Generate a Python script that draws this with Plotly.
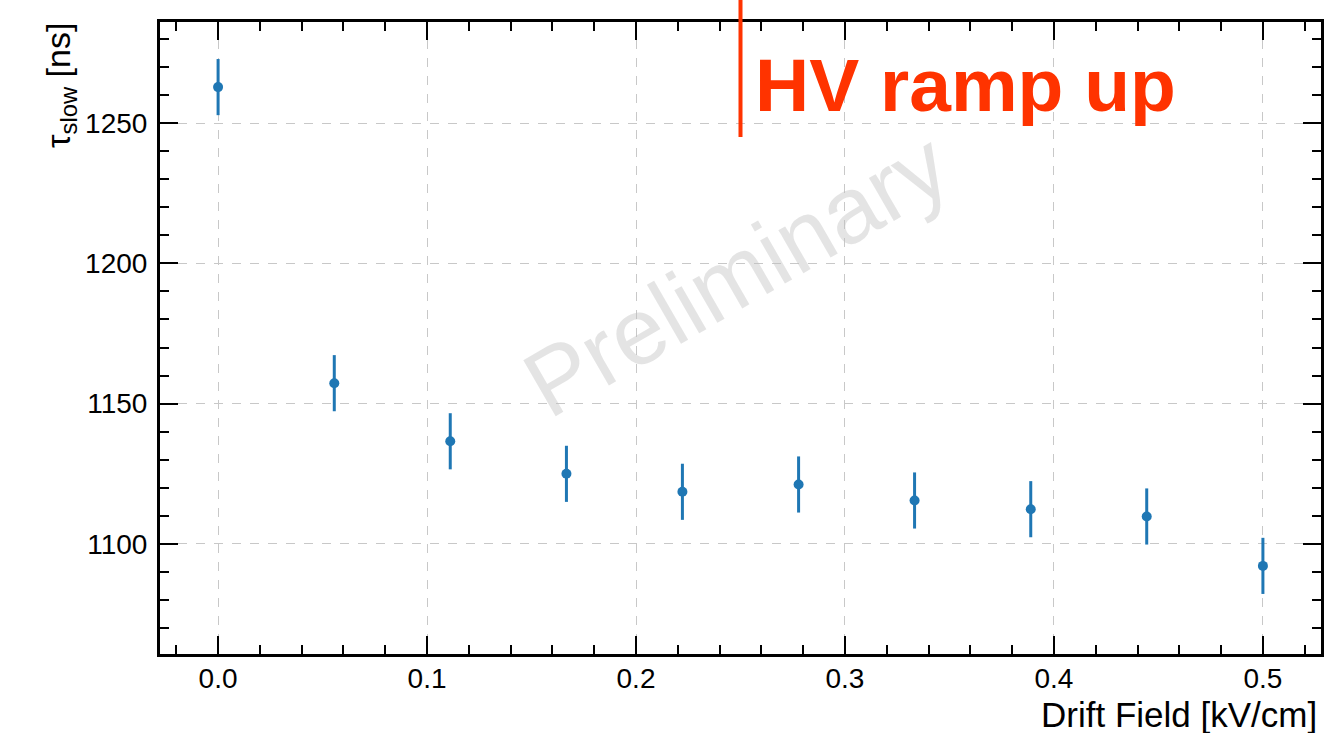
import plotly.graph_objects as go

# ---- data ----
drift_field = [0.0, 0.0556, 0.1111, 0.1667, 0.2222, 0.2778, 0.3333, 0.3889, 0.4444, 0.5]
tau_slow = [1262.8, 1157.3, 1136.6, 1125.0, 1118.6, 1121.2, 1115.5, 1112.4, 1109.8, 1092.2]
tau_err = [10, 10, 10, 10, 10, 10, 10, 10, 10, 10]
x_ticks = [0.0, 0.1, 0.2, 0.3, 0.4, 0.5]
y_ticks = [1100, 1150, 1200, 1250]
hv_ramp_x = 0.25

FONT = "Liberation Sans, Arial, Helvetica, sans-serif"
RED = "#ff3300"
BLUE = "#1f77b4"

fig = go.Figure()
fig.add_trace(go.Scatter(
    x=drift_field, y=tau_slow, mode="markers",
    marker=dict(color=BLUE, size=10),
    error_y=dict(type="data", array=tau_err, visible=True, color=BLUE, thickness=3, width=0),
    showlegend=False,
))

axis_common = dict(
    showline=True, linecolor="black", linewidth=3, mirror="allticks",
    ticks="inside", ticklen=18, tickwidth=1.5, tickcolor="black",
    showgrid=True, gridcolor="#c8c8c8", gridwidth=1, griddash="dash",
    zeroline=False,
    tickfont=dict(family=FONT, size=28, color="black"),
)

fig.update_xaxes(
    range=[-0.0278, 0.5278], tickvals=x_ticks, ticktext=[f"{v:.1f}" for v in x_ticks],
    minor=dict(dtick=0.02, tick0=0, ticks="inside", ticklen=9, tickwidth=1.5, tickcolor="black", showgrid=False),
    ticklabelstandoff=-3,
    **axis_common,
)
fig.update_yaxes(
    range=[1060.8, 1286.0], tickvals=y_ticks, ticktext=[str(v) for v in y_ticks],
    minor=dict(dtick=10, tick0=1100, ticks="inside", ticklen=9, tickwidth=1.5, tickcolor="black", showgrid=False),
    ticklabelstandoff=4,
    **axis_common,
)

# HV ramp up marker line
fig.add_shape(type="line", xref="x", yref="paper", x0=hv_ramp_x, x1=hv_ramp_x,
              y0=0.818, y1=1.06, line=dict(color=RED, width=4))

annotations = [
    dict(text="<b>HV ramp up</b>", xref="x", yref="paper", x=hv_ramp_x, y=0.900,
         xanchor="left", yanchor="middle", xshift=12, showarrow=False,
         font=dict(family=FONT, size=75, color=RED)),
    dict(text="Preliminary", xref="paper", yref="paper", x=0.496, y=0.601,
         xanchor="center", yanchor="middle", textangle=-30, showarrow=False,
         font=dict(family=FONT, size=94, color="rgba(190,190,190,0.42)")),
    dict(text="τ<sub>slow</sub> [ns]", xref="paper", yref="paper", x=-0.0655, y=1.0016,
         xanchor="right", yanchor="top", textangle=-90, showarrow=False,
         font=dict(family=FONT, size=34, color="black")),
    dict(text="Drift Field [kV/cm]", xref="paper", yref="paper", x=0.998, y=-0.0965,
         xanchor="right", yanchor="middle", showarrow=False,
         font=dict(family=FONT, size=35, color="black")),
]
fig.update_layout(
    width=1342, height=733,
    margin=dict(l=160, r=21, t=22, b=79),
    paper_bgcolor="white", plot_bgcolor="white",
    annotations=annotations,
)

fig.write_html("out.html")
